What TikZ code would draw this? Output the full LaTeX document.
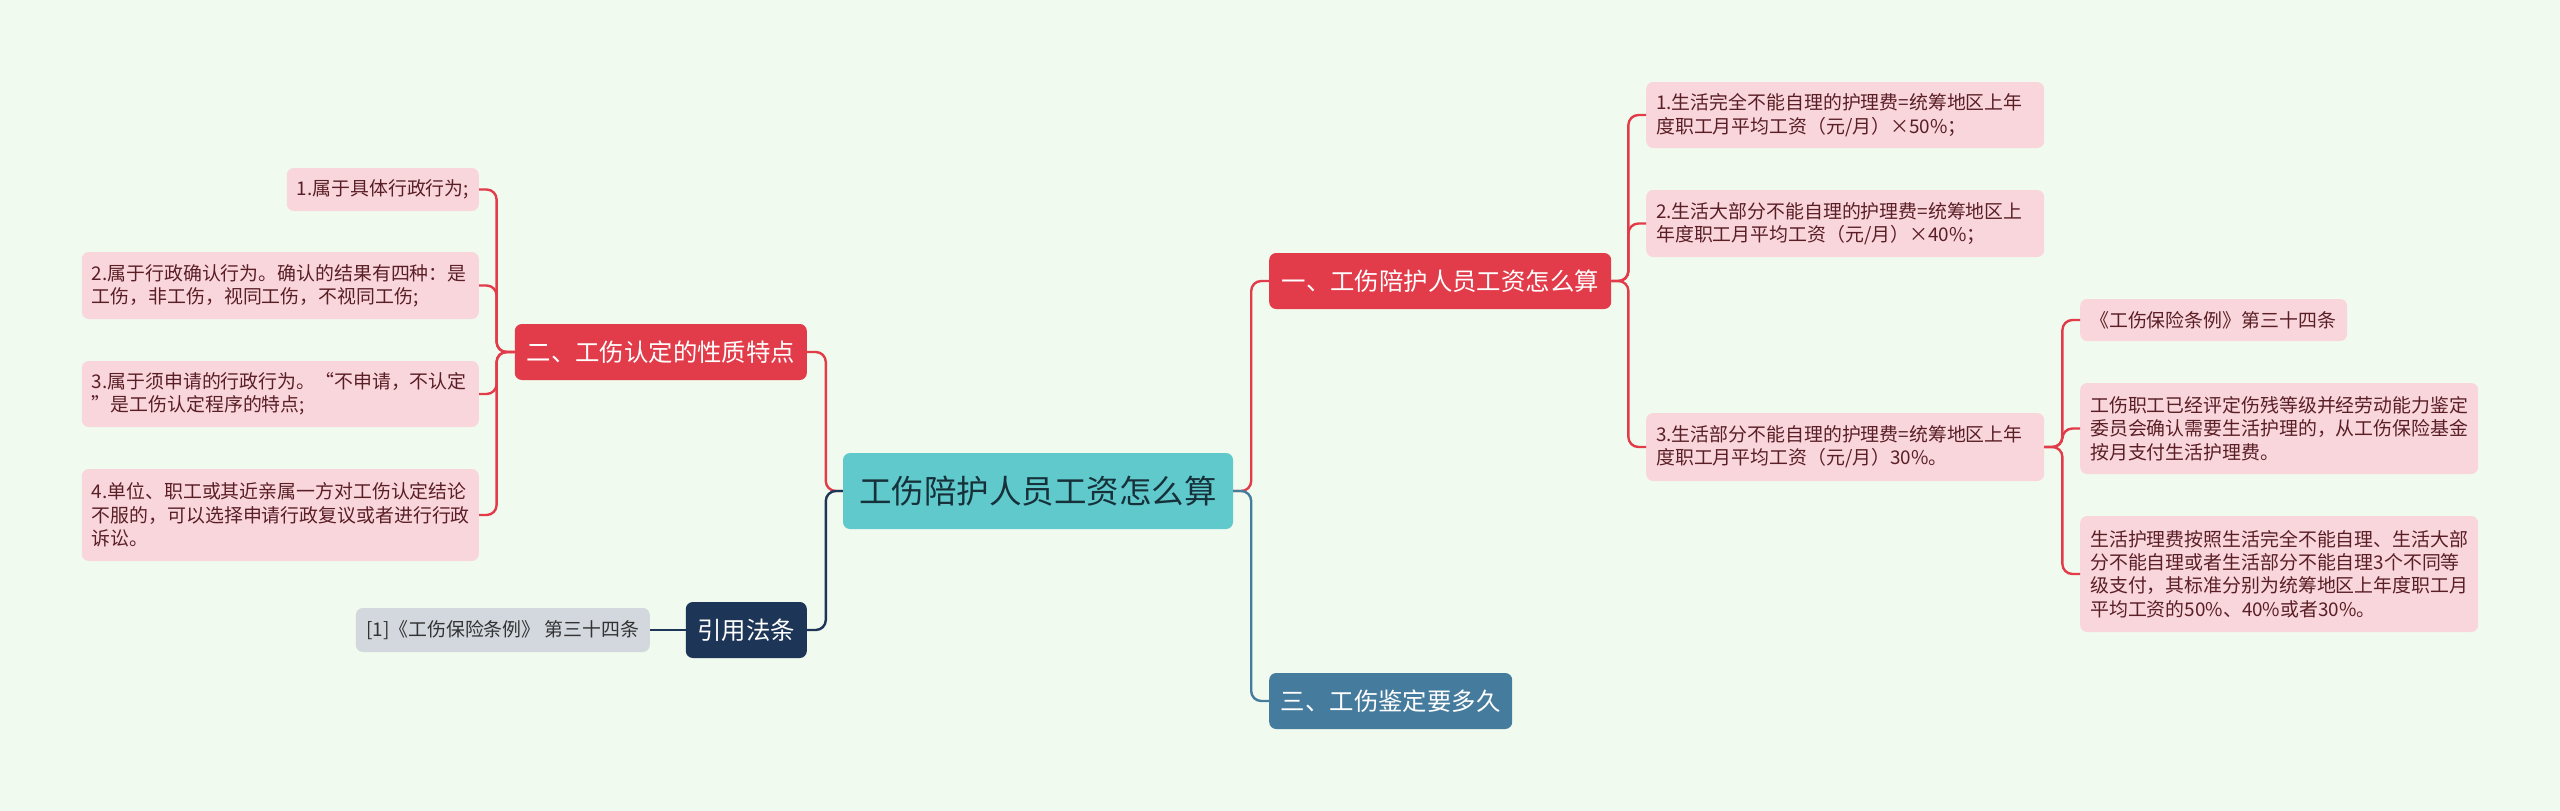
\documentclass[tikz,border=0pt]{standalone}
\usepackage{fontspec}
\setmainfont{Noto Sans CJK SC}
\usepackage{tikz}
\usetikzlibrary{positioning}
\definecolor{bgmint}{HTML}{F1FAEE}
\definecolor{rootteal}{HTML}{60C9CC}
\definecolor{roottext}{HTML}{17313A}
\definecolor{brred}{HTML}{E23B49}
\definecolor{brnavy}{HTML}{1D3557}
\definecolor{brblue}{HTML}{457B9D}
\definecolor{leafpink}{HTML}{F9D6DB}
\definecolor{leaftext}{HTML}{5A1F26}
\definecolor{leafgray}{HTML}{D3D8DE}

\begin{document}
\begin{tikzpicture}[x=1pt, y=-1pt,
  box/.style={rounded corners=7pt, inner sep=0pt},
  leaf/.style={box, fill=leafpink, text=leaftext, align=left, inner xsep=10pt,
    font=\fontsize{18.9}{23.3}\selectfont},
  branch/.style={box, text=white, minimum height=56pt, font=\fontsize{24.4}{28}\selectfont},
  link/.style={line width=2.4pt, rounded corners=10pt}]
  \useasboundingbox (0,0) rectangle (2560,811);
  \fill[bgmint] (0,0) rectangle (2560,811);

  % --- Root ---
  \node[box, fill=rootteal, text=roottext, minimum width=390pt, minimum height=76pt,
    font=\fontsize{32.5}{36}\selectfont] (root) at (1038,491) {工伤陪护人员工资怎么算};

  % --- Main branches ---
  \node[branch, fill=brred, minimum width=342pt, anchor=west] (calc) at (1269,281) {一、工伤陪护人员工资怎么算};
  \node[branch, fill=brred, minimum width=292pt, anchor=east] (nature) at (807,352) {二、工伤认定的性质特点};
  \node[branch, fill=brblue, minimum width=243pt, anchor=west] (howlong) at (1269,701) {三、工伤鉴定要多久};
  \node[branch, fill=brnavy, minimum width=121pt, anchor=east] (cite) at (807,630) {引用法条};

  % --- Leaves of 二 ---
  \node[leaf, text width=172pt, minimum height=43pt, anchor=east] (nat1) at (479,189.5) {1.属于具体行政行为;};
  \node[leaf, text width=377pt, minimum height=67pt, anchor=east] (nat2) at (479,285.5)
    {2.属于行政确认行为。确认的结果有四种：是\\工伤，非工伤，视同工伤，不视同工伤;};
  \node[leaf, text width=377pt, minimum height=66pt, anchor=east] (nat3) at (479,394)
    {3.属于须申请的行政行为。“不申请，不认定\\”是工伤认定程序的特点;};
  \node[leaf, text width=377pt, minimum height=92pt, anchor=east] (nat4) at (479,515)
    {4.单位、职工或其近亲属一方对工伤认定结论\\不服的，可以选择申请行政复议或者进行行政\\诉讼。};

  % --- Leaf of 引用法条 ---
  \node[leaf, fill=leafgray, text=black!80, align=center, minimum width=294pt, minimum height=44pt,
    anchor=east] (law) at (650,630) {[1]《工伤保险条例》 第三十四条};

  % --- Leaves of 一 ---
  \node[leaf, text width=378pt, minimum height=66pt, anchor=west] (fee1) at (1646,115)
    {1.生活完全不能自理的护理费=统筹地区上年\\度职工月平均工资（元/月）×50\%；};
  \node[leaf, text width=378pt, minimum height=67pt, anchor=west] (fee2) at (1646,223.5)
    {2.生活大部分不能自理的护理费=统筹地区上\\年度职工月平均工资（元/月）×40\%；};
  \node[leaf, text width=378pt, minimum height=68pt, anchor=west] (fee3) at (1646,447)
    {3.生活部分不能自理的护理费=统筹地区上年\\度职工月平均工资（元/月）30\%。};

  % --- Leaves of fee3 ---
  \node[leaf, text width=247pt, minimum height=42pt, anchor=west] (art1) at (2080,320) {《工伤保险条例》第三十四条};
  \node[leaf, text width=378pt, minimum height=91pt, anchor=west] (art2) at (2080,428.5)
    {工伤职工已经评定伤残等级并经劳动能力鉴定\\委员会确认需要生活护理的，从工伤保险基金\\按月支付生活护理费。};
  \node[leaf, text width=378pt, minimum height=116pt, anchor=west] (art3) at (2080,574)
    {生活护理费按照生活完全不能自理、生活大部\\分不能自理或者生活部分不能自理3个不同等\\级支付，其标准分别为统筹地区上年度职工月\\平均工资的50\%、40\%或者30\%。};

  % --- Connectors ---
  \draw[link, brred] (root.west) -- ++(-17,0) |- (nature.east);
  \draw[link, brnavy] (root.west) -- ++(-17,0) |- (cite.east);
  \draw[link, brred] (root.east) -- ++(18,0) |- (calc.west);
  \draw[link, brblue] (root.east) -- ++(18,0) |- (howlong.west);
  \foreach \n in {nat1,nat2,nat3,nat4}
    \draw[link, brred] (nature.west) -- ++(-18,0) |- (\n.east);
  \draw[link, brnavy] (cite.west) -- (law.east);
  \foreach \n in {fee1,fee2,fee3}
    \draw[link, brred] (calc.east) -- ++(17,0) |- (\n.west);
  \foreach \n in {art1,art2,art3}
    \draw[link, brred] (fee3.east) -- ++(18,0) |- (\n.west);
\end{tikzpicture}
\end{document}
